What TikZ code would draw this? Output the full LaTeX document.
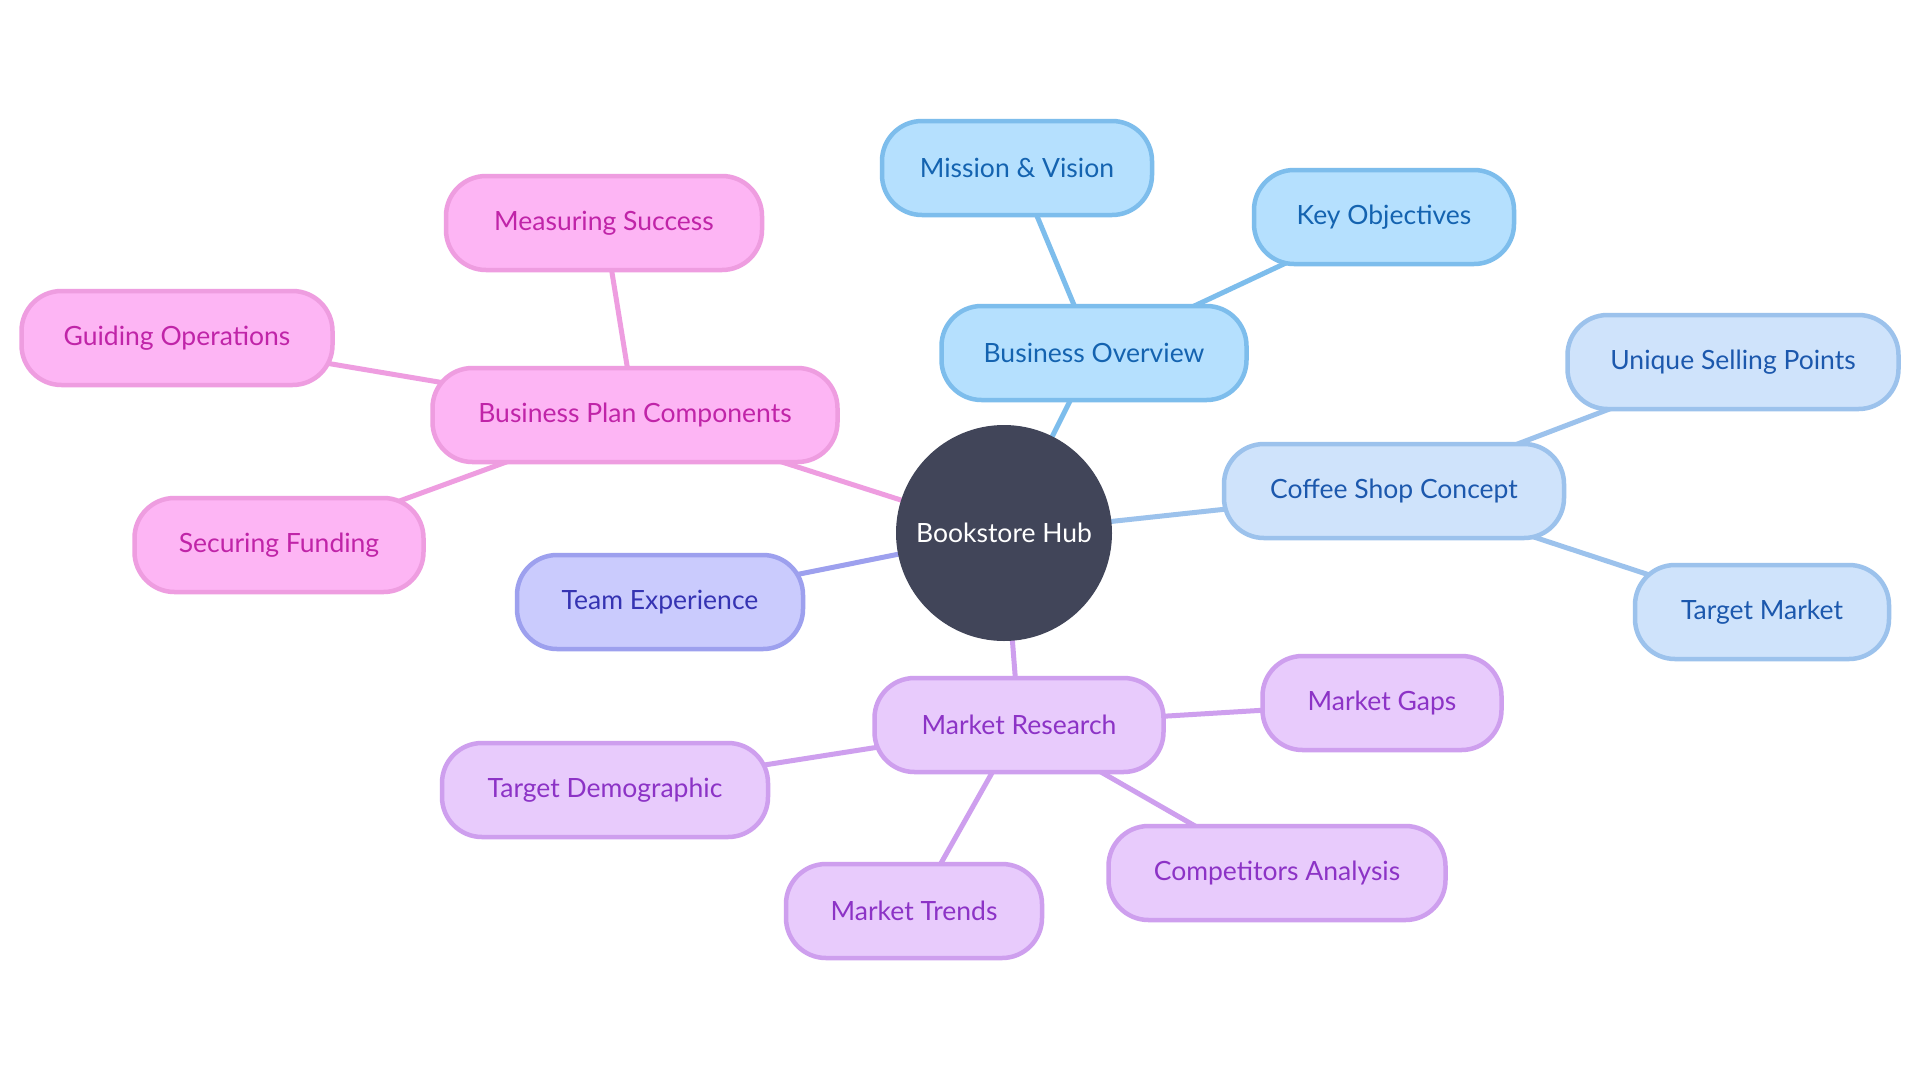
\documentclass[tikz,border=0pt]{standalone}
\usepackage{fontspec}
\setmainfont{Lato}
\usetikzlibrary{backgrounds}
\definecolor{pkF}{HTML}{FDB5F4}\definecolor{pkD}{HTML}{EE9DE0}\definecolor{pkT}{HTML}{C024A8}
\definecolor{blF}{HTML}{B5E0FE}\definecolor{blD}{HTML}{7DBDEC}\definecolor{blT}{HTML}{1463B0}
\definecolor{lbF}{HTML}{CFE3FB}\definecolor{lbD}{HTML}{9CC2EC}\definecolor{lbT}{HTML}{1C58AD}
\definecolor{puF}{HTML}{E8CBFC}\definecolor{puD}{HTML}{CE9FEE}\definecolor{puT}{HTML}{8C33C6}
\definecolor{teF}{HTML}{CACBFD}\definecolor{teD}{HTML}{9DA0EE}\definecolor{teT}{HTML}{3533B2}
\definecolor{hub}{HTML}{414559}
\tikzset{
  box/.style={rectangle, rounded corners=40pt, minimum height=94pt, line width=4.5pt, inner sep=0pt, font=\fontsize{26.5}{30}\selectfont},
  pk/.style={box, fill=pkF, draw=pkD, text=pkT},
  bl/.style={box, fill=blF, draw=blD, text=blT},
  lb/.style={box, fill=lbF, draw=lbD, text=lbT},
  pu/.style={box, fill=puF, draw=puD, text=puT},
  te/.style={box, fill=teF, draw=teD, text=teT},
  link/.style={line width=5pt},
}
\begin{document}
\begin{tikzpicture}[x=1pt,y=-1pt]
\useasboundingbox (0,0) rectangle (1920,1080);
\node[circle, fill=hub, minimum size=216pt, inner sep=0pt, text=white, font=\fontsize{26.5}{30}\selectfont] (hub) at (1004,533) {Bookstore Hub};
\node[bl, minimum width=305pt] (bo) at (1094,353) {Business Overview};
\node[bl, minimum width=270pt] (mv) at (1017,168) {Mission \& Vision};
\node[bl, minimum width=260pt] (ko) at (1384,217) {Key Objectives};
\node[lb, minimum width=340pt] (cs) at (1394,491) {Coffee Shop Concept};
\node[lb, minimum width=331pt] (usp) at (1733,362) {Unique Selling Points};
\node[lb, minimum width=254pt] (tm) at (1762,612) {Target Market};
\node[pu, minimum width=289pt] (mr) at (1019,725) {Market Research};
\node[pu, minimum width=239pt] (mg) at (1382,703) {Market Gaps};
\node[pu, minimum width=326pt] (td) at (605,790) {Target Demographic};
\node[pu, minimum width=256pt] (mt) at (914,911) {Market Trends};
\node[pu, minimum width=337pt] (ca) at (1277,873) {Competitors Analysis};
\node[te, minimum width=286pt] (te) at (660,602) {Team Experience};
\node[pk, minimum width=405pt] (bp) at (635,415) {Business Plan Components};
\node[pk, minimum width=316pt] (ms) at (604,223) {Measuring Success};
\node[pk, minimum width=311pt] (go) at (177,338) {Guiding Operations};
\node[pk, minimum width=289pt] (sf) at (279,545) {Securing Funding};
\begin{scope}[on background layer]
\fill[white] (0,0) rectangle (1920,1080);
\draw[link, draw=blD] (hub.center) -- (bo.center);
\draw[link, draw=blD] (bo.center) -- (mv.center);
\draw[link, draw=blD] (bo.center) -- (ko.center);
\draw[link, draw=lbD] (hub.center) -- (cs.center);
\draw[link, draw=lbD] (cs.center) -- (usp.center);
\draw[link, draw=lbD] (cs.center) -- (tm.center);
\draw[link, draw=puD] (hub.center) -- (mr.center);
\draw[link, draw=puD] (mr.center) -- (mg.center);
\draw[link, draw=puD] (mr.center) -- (td.center);
\draw[link, draw=puD] (mr.center) -- (mt.center);
\draw[link, draw=puD] (mr.center) -- (ca.center);
\draw[link, draw=teD] (hub.center) -- (te.center);
\draw[link, draw=pkD] (hub.center) -- (bp.center);
\draw[link, draw=pkD] (bp.center) -- (ms.center);
\draw[link, draw=pkD] (bp.center) -- (go.center);
\draw[link, draw=pkD] (bp.center) -- (sf.center);
\end{scope}
\end{tikzpicture}
\end{document}
